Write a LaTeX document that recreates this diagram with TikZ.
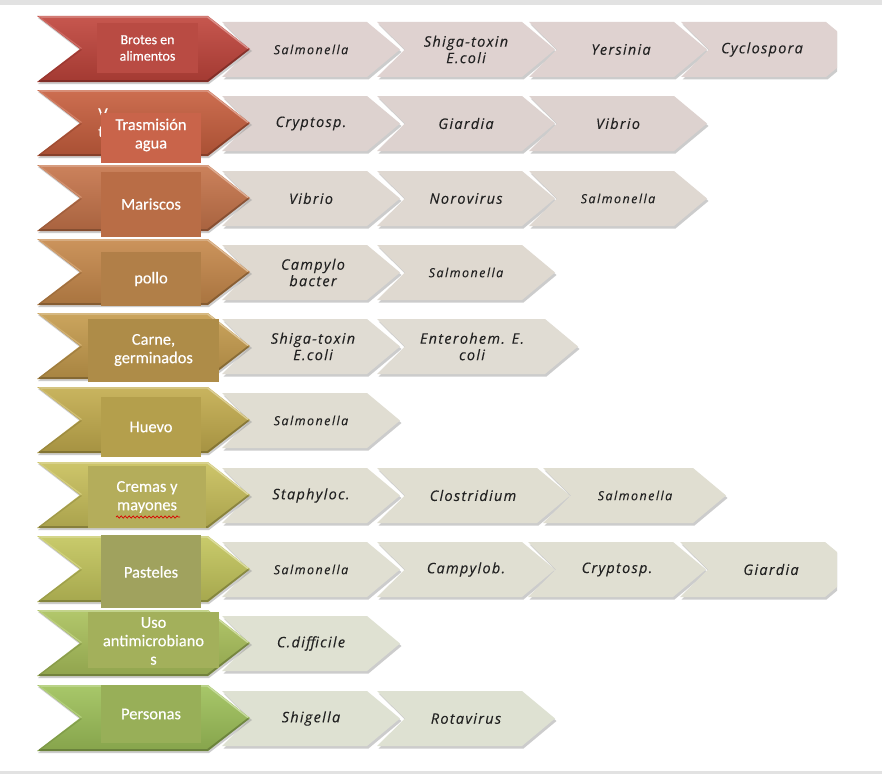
\documentclass[tikz,border=0pt]{standalone}
\usepackage{fontspec}
\setmainfont{Carlito}[FakeBold=0.35]
\newfontfamily\spfont[LetterSpace=9,FakeBold=0.15]{Open Sans}
\newfontfamily\sspfont[LetterSpace=12,FakeBold=0.12]{Open Sans}
\usetikzlibrary{decorations.pathmorphing}
\definecolor{bandc}{HTML}{E2E2E2}
\definecolor{txtc}{HTML}{222222}
\definecolor{shc}{HTML}{9A9A9A}
% dark chevrons / boxes
\definecolor{d1}{HTML}{C0443B}\definecolor{b1}{HTML}{B94B43}
\definecolor{d2}{HTML}{C75E3D}\definecolor{b2}{HTML}{C9644A}
\definecolor{d3}{HTML}{C6744A}\definecolor{b3}{HTML}{B96D46}
\definecolor{d4}{HTML}{C6884A}\definecolor{b4}{HTML}{B17F48}
\definecolor{d5}{HTML}{C59B4C}\definecolor{b5}{HTML}{AE8C48}
\definecolor{d6}{HTML}{C3AC4D}\definecolor{b6}{HTML}{B49F4C}
\definecolor{d7}{HTML}{C8BF5A}\definecolor{b7}{HTML}{B4AD5B}
\definecolor{d8}{HTML}{C3C55B}\definecolor{b8}{HTML}{A0A25E}
\definecolor{d9}{HTML}{AAC15B}\definecolor{b9}{HTML}{A3B05B}
\definecolor{d10}{HTML}{9EC159}\definecolor{b10}{HTML}{98AF58}
% light chevrons
\definecolor{l1}{HTML}{DFD2D0}
\definecolor{l2}{HTML}{DDD2CF}
\definecolor{l3}{HTML}{DFD8D1}
\definecolor{l4}{HTML}{DFD9D0}
\definecolor{l5}{HTML}{E0DCD3}
\definecolor{l6}{HTML}{E0DDD2}
\definecolor{l7}{HTML}{E0DED1}
\definecolor{l8}{HTML}{E0DFD2}
\definecolor{l9}{HTML}{DFE1D2}
\definecolor{l10}{HTML}{DEE1D2}
\tikzset{
  lt/.style={font=\spfont\itshape\fontsize{14.5}{16.5}\selectfont, text=txtc, align=center, inner sep=0pt},
  ls/.style={font=\sspfont\itshape\fontsize{12.5}{15}\selectfont, text=txtc, align=center, inner sep=0pt},
  dl/.style={font=\fontsize{16.5}{18.5}\selectfont, text=white, align=center, inner sep=0pt},
  dls/.style={font=\fontsize{14}{16.5}\selectfont, text=white, align=center, inner sep=0pt},
}
% light chevron: #1 L, #2 width, #3 top, #4 colour, #5 name, #6 text style, #7 text dx, #8 text
\newcommand\LChev[8]{%
  \begin{scope}[shift={(#1,#3)}]
    \fill[shc, opacity=.5] (1.5,8.5) -- ({#2+1.5},8.5) -- ({#2+34.5},36) -- ({#2+1.5},63.5) -- (1.5,63.5) -- (29.5,36) -- cycle;
    \fill[#4] (0,6) -- (#2,6) -- ({#2+33},33.5) -- (#2,61) -- (0,61) -- (28,33.5) -- cycle;
    \node[#6] (#5) at (#7,33.5) {#8};
  \end{scope}}
% dark chevron: #1 top, #2 colour
\newcommand\DChev[2]{%
  \begin{scope}[shift={(0,#1)}]
    \fill[shc, opacity=.5] (38,2) -- (209,2) -- (252,35) -- (209,68) -- (38,68) -- (81,35) -- cycle;
    \shade[top color=#2!90!white, middle color=#2, bottom color=#2!85!black]
      (37,0) -- (208,0) -- (250,33) -- (208,66) -- (37,66) -- (80,33) -- cycle;
    \draw[#2!60!white, line width=1.4, line join=round] (39,1) -- (207.5,1) -- (248,32.5);
    \draw[#2!80!white, line width=1.2] (40,1.5) -- (81.5,32.5);
    \draw[#2!60!black, line width=1.8, opacity=.7, line join=round] (248.5,33.5) -- (207.5,65) -- (39,65);
    \draw[#2!75!black, line width=1.2, opacity=.6] (81.5,33.5) -- (40,64.5);
  \end{scope}}
\begin{document}
\begin{tikzpicture}[x=1bp, y=-1bp]
\useasboundingbox (0,0) rectangle (882,774);
\fill[white] (0,0) rectangle (882,774);
\fill[bandc] (0,0) rectangle (882,5);
\fill[bandc] (0,771) rectangle (882,774);

\begin{scope}
\clip (0,0) rectangle (837,774);
% row 1
\LChev{222}{145}{16}{l1}{a1}{ls}{89}{Salmonella}
\LChev{377}{145}{16}{l1}{a2}{lt}{89}{Shiga-toxin\\E.coli}
\LChev{529}{145}{16}{l1}{a3}{lt}{92}{Yersinia}
\LChev{681}{145}{16}{l1}{a4}{lt}{81}{Cyclospora}
% row 2
\LChev{222}{145}{90}{l2}{b1n}{lt}{89}{Cryptosp.}
\LChev{377}{145}{90}{l2}{b2n}{lt}{89}{Giardia}
\LChev{529}{145}{90}{l2}{b3n}{lt}{89}{Vibrio}
% row 3
\LChev{222}{145}{165}{l3}{c1}{lt}{89}{Vibrio}
\LChev{377}{145}{165}{l3}{c2}{lt}{89}{Norovirus}
\LChev{529}{145}{165}{l3}{c3}{ls}{89}{Salmonella}
% row 4
\LChev{222}{145}{239}{l4}{e1}{lt}{91}{Campylo\\bacter}
\LChev{377}{145}{239}{l4}{e2}{ls}{89}{Salmonella}
% row 5
\LChev{222}{145}{313}{l5}{f1}{lt}{91}{Shiga-toxin\\E.coli}
\LChev{377}{168}{313}{l5}{f2}{lt}{95}{Enterohem. E.\\coli}
% row 6
\LChev{222}{145}{387}{l6}{g1}{ls}{89}{Salmonella}
% row 7
\LChev{222}{145}{462}{l7}{h1}{lt}{89}{Staphyloc.}
\LChev{377}{160}{462}{l7}{h2}{lt}{96}{Clostridium}
\LChev{543}{150}{462}{l7}{h3}{ls}{92}{Salmonella}
% row 8
\LChev{222}{145}{536}{l8}{i1}{ls}{89}{Salmonella}
\LChev{377}{145}{536}{l8}{i2}{lt}{89}{Campylob.}
\LChev{528}{145}{536}{l8}{i3}{lt}{89}{Cryptosp.}
\LChev{680}{145}{536}{l8}{i4}{lt}{91}{Giardia}
% row 9
\LChev{222}{145}{610}{l9}{j1}{lt}{89}{C.difficile}
% row 10
\LChev{222}{145}{685}{l10}{k1}{lt}{89}{Shigella}
\LChev{377}{145}{685}{l10}{k2}{lt}{89}{Rotavirus}
\end{scope}

% dark chevrons
\DChev{16}{d1}
\DChev{90}{d2}
\DChev{165}{d3}
\DChev{239}{d4}
\DChev{313}{d5}
\DChev{387}{d6}
\DChev{462}{d7}
\DChev{536}{d8}
\DChev{610}{d9}
\DChev{685}{d10}

% hidden text fragments behind box 2
\node[dl, anchor=base] (hv) at (103,119) {V};
\node[dl, anchor=base] (ht) at (101,137) {t};

% label boxes
\fill[b1] (97,23) rectangle (198,73);
\fill[b2] (101,113) rectangle (201,163);
\fill[b3] (101,172) rectangle (201,237);
\fill[b4] (101,252) rectangle (201,306);
\fill[b5] (88,319) rectangle (219,382);
\fill[b6] (101,397) rectangle (201,457);
\fill[b7] (88,466) rectangle (206,528);
\fill[b8] (101,535) rectangle (201,608);
\fill[b9] (88,612) rectangle (219,668);
\fill[b10] (101,685) rectangle (201,743);

\node[dls] (t1) at (147.5,48) {Brotes en\\alimentos};
\node[dl] (t2) at (151,135) {Trasmisión\\agua};
\node[dl] (t3) at (151,204) {Mariscos};
\node[dl] (t4) at (151,279) {pollo};
\node[dl] (t5) at (153.5,350) {Carne,\\germinados};
\node[dl] (t6) at (151,427) {Huevo};
\node[dl] (t7) at (147,497) {Cremas y\\mayones};
\node[dl] (t8) at (151,572) {Pasteles};
\node[dl] (t9) at (153.5,641) {Uso\\antimicrobiano\\s};
\node[dl] (t10) at (151,714) {Personas};

% spell-check squiggle under "mayones"
\coordinate (sq1) at (116,517);
\coordinate (sq2) at (180,517);
\draw[red!85!black, line width=0.7, decorate, decoration={snake, amplitude=1.1pt, segment length=4pt}] (sq1) -- (sq2);
\end{tikzpicture}
\end{document}
